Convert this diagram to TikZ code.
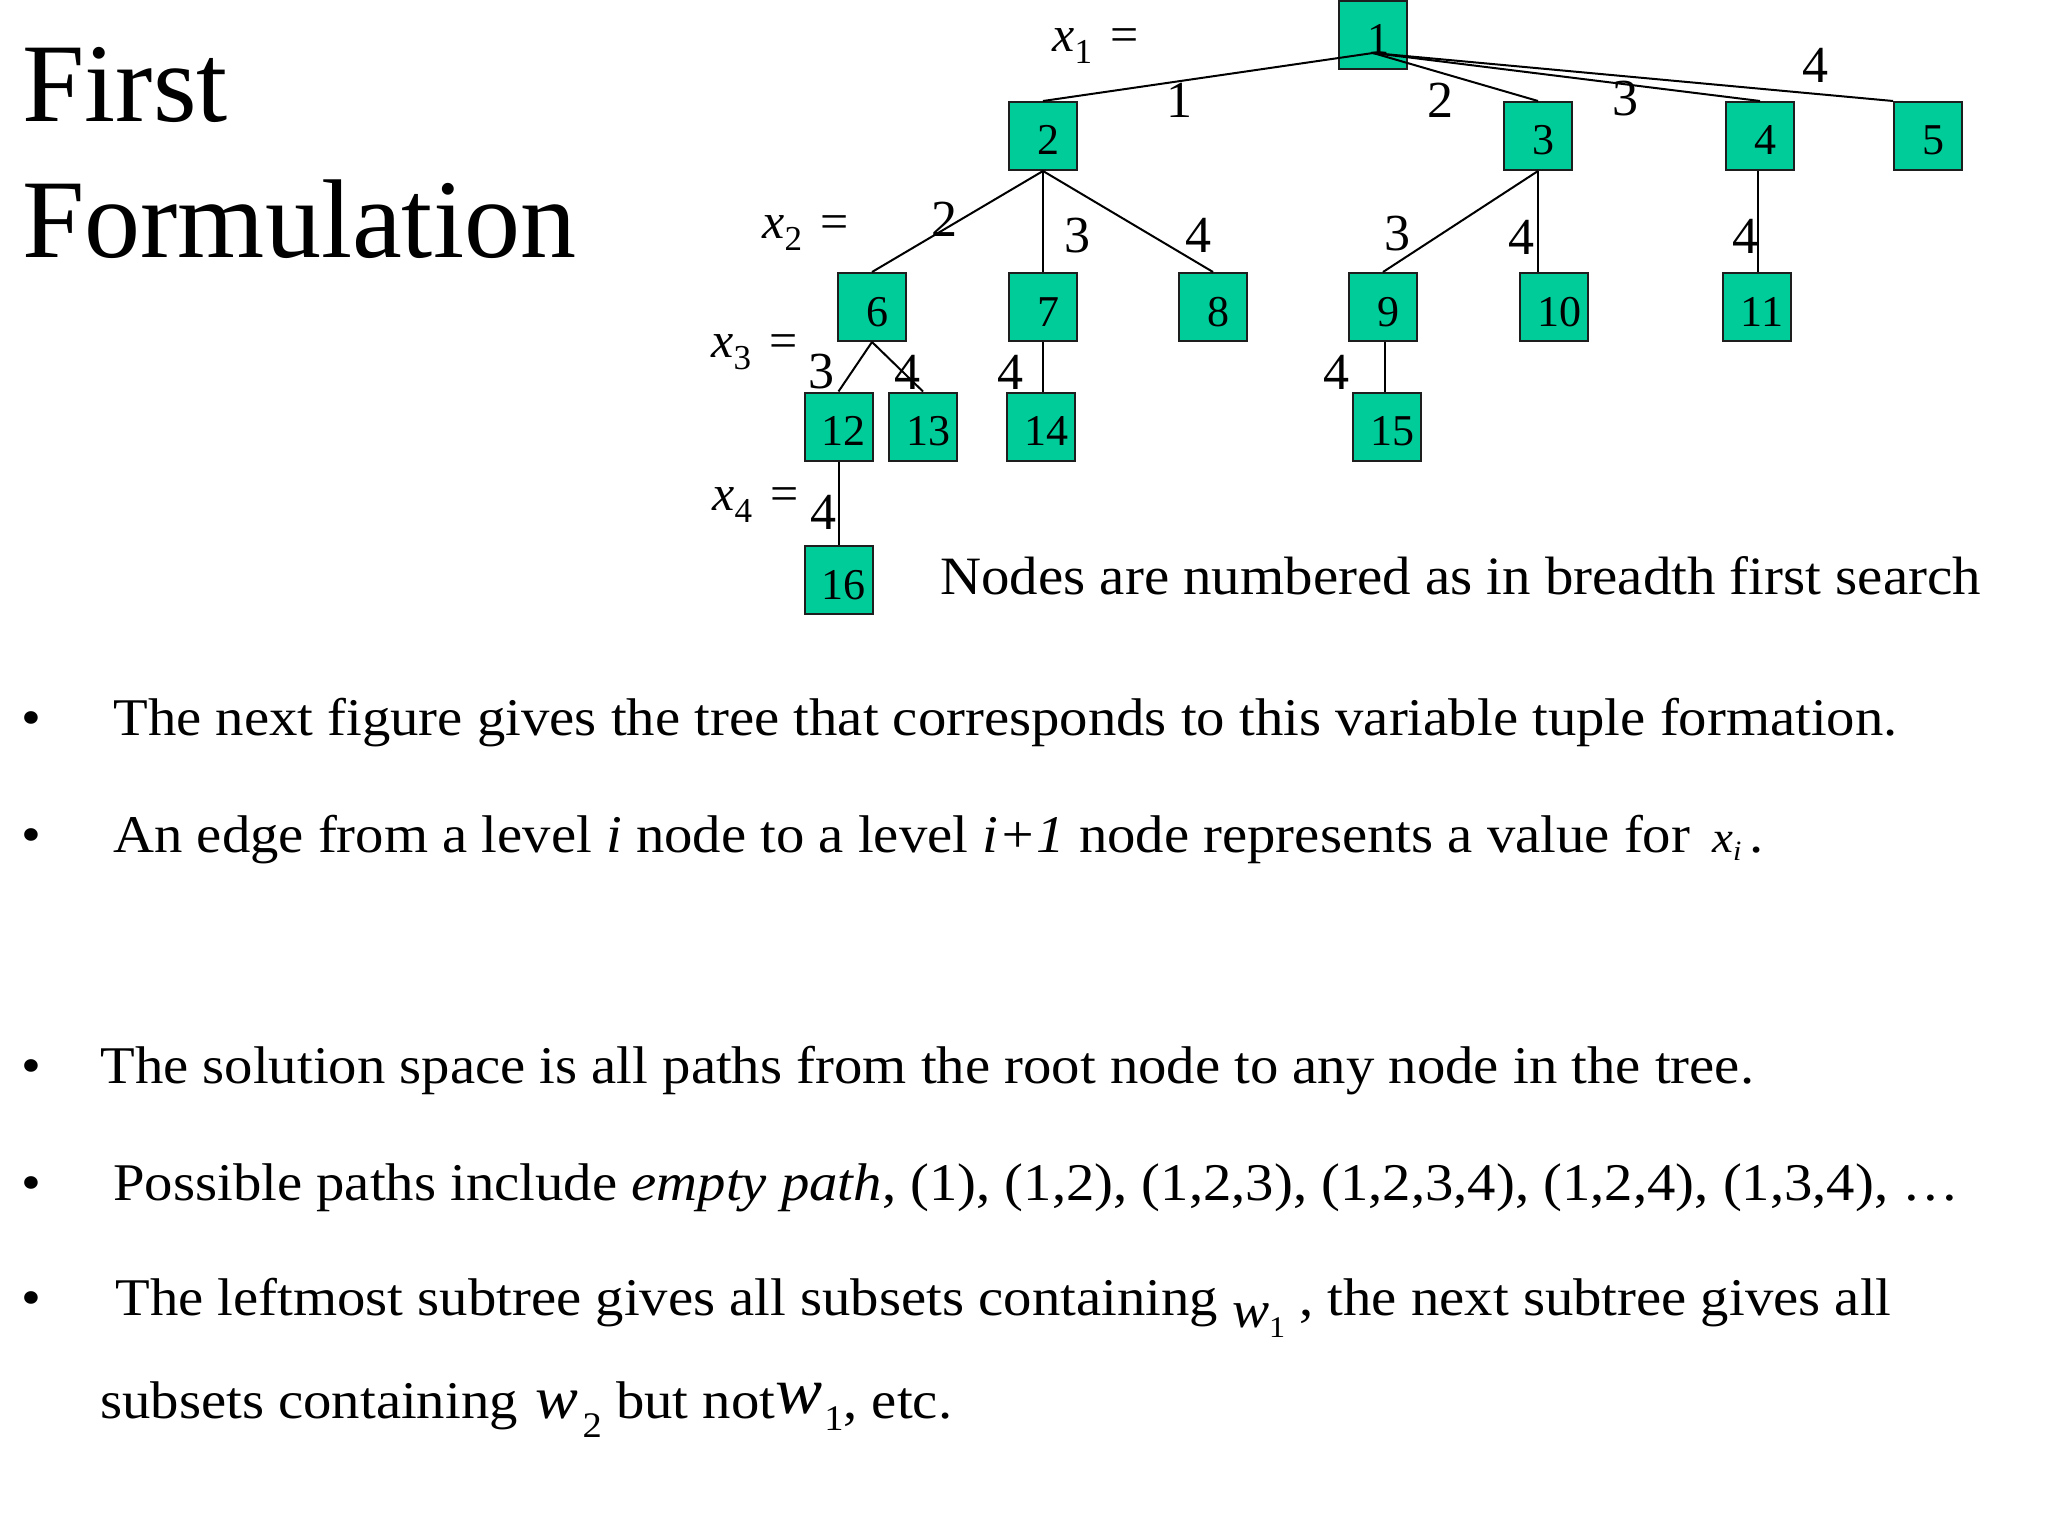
\documentclass[tikz,border=0pt]{standalone}
\usepackage{fontspec}
\setmainfont{Liberation Serif}
\newfontfamily\widefont{Liberation Serif}[FakeStretch=1.07]
\newfontfamily\capfont{Liberation Serif}[FakeStretch=1.053]
\definecolor{boxfill}{RGB}{0,204,153}
\definecolor{boxline}{RGB}{30,30,30}
\newcommand\xvar[1]{\textit{x}\raisebox{-6pt}{\fontsize{17.5}{17.5}\selectfont #1}\hspace{9pt}=}
\newcommand\nd[1]{\hspace*{5pt}#1}
\begin{document}
\begin{tikzpicture}[x=0.5pt,y=-0.5pt,
  tbox/.style={draw=boxline, fill=boxfill, line width=1pt, minimum width=34pt, minimum height=34pt, inner sep=0pt, text height=19pt, text depth=0pt, font=\fontsize{22}{22}\selectfont},
  elab/.style={inner sep=0pt, font=\fontsize{26}{26}\selectfont},
  edge/.style={line width=1pt, draw=black},
  vlab/.style={inner sep=0pt, anchor=base west, font=\fontsize{25}{25}\selectfont},
  body/.style={inner sep=0pt, anchor=base west, font=\widefont\fontsize{26.5}{26.5}\selectfont},
  ttl/.style={inner sep=0pt, anchor=base west, font=\fontsize{56}{56}\selectfont},
  ]
\fill[white] (0,0) rectangle (2048,1536);
\useasboundingbox (0,0) rectangle (2048,1536);

% title
\node[ttl] (t1) at (22,121) {First};
\node[ttl] (t2) at (22,257) {Formulation};

% tree nodes
\node[tbox] (n1) at (1373,35) {\nd{1}};
\node[tbox] (n2) at (1043,136) {\nd{2}};
\node[tbox] (n3) at (1538,136) {\nd{3}};
\node[tbox] (n4) at (1760,136) {\nd{4}};
\node[tbox] (n5) at (1928,136) {\nd{5}};
\node[tbox] (n6) at (872,307) {\nd{6}};
\node[tbox] (n7) at (1043,307) {\nd{7}};
\node[tbox] (n8) at (1213,307) {\nd{8}};
\node[tbox] (n9) at (1383,307) {\nd{9}};
\node[tbox] (n10) at (1554,307) {\nd{10}};
\node[tbox] (n11) at (1757,307) {\nd{11}};
\node[tbox] (n12) at (838.5,426.5) {\nd{12}};
\node[tbox] (n13) at (923,426.5) {\nd{13}};
\node[tbox] (n14) at (1041,426.5) {\nd{14}};
\node[tbox] (n15) at (1387,426.5) {\nd{15}};
\node[tbox] (n16) at (838.5,580) {\nd{16}};

% edges
\coordinate (r) at ([yshift=-9pt]n1.center);
\draw[edge] (r) -- (n2.north);
\draw[edge] (r) -- (n3.north);
\draw[edge] (r) -- (n4.north);
\draw[edge] (r) -- (n5.north west);
\draw[edge] (n2.south) -- (n6.north);
\draw[edge] (n2.south) -- (n7.north);
\draw[edge] (n2.south) -- (n8.north);
\draw[edge] (n3.south) -- (n9.north);
\draw[edge] (n3.south) -- (n3.south |- n10.north);
\draw[edge] ([xshift=-1pt]n4.south) -- ([xshift=-1pt]n4.south |- n11.north);
\draw[edge] (n6.south) -- (n12.north);
\draw[edge] (n6.south) -- (n13.north);
\draw[edge] (n7.south) -- (n7.south |- n14.north);
\draw[edge] ([xshift=1pt]n9.south) -- ([xshift=1pt]n9.south |- n15.north);
\draw[edge] (n12.south) -- (n16.north);

% edge labels
\node[elab] (e12) at (1179,100) {1};
\node[elab] (e13) at (1440,100) {2};
\node[elab] (e14) at (1625,99) {3};
\node[elab] (e15) at (1815,65) {4};
\node[elab] (e26) at (944,219) {2};
\node[elab] (e27) at (1077,236) {3};
\node[elab] (e28) at (1198,235) {4};
\node[elab] (e39) at (1397,234) {3};
\node[elab] (e310) at (1521,237) {4};
\node[elab] (e411) at (1745,236) {4};
\node[elab] (e612) at (821,372) {3};
\node[elab] (e613) at (907,372) {4};
\node[elab] (e714) at (1010,372) {4};
\node[elab] (e915) at (1336,372) {4};
\node[elab] (e1216) at (823,512) {4};

% level labels
\node[vlab] (x1) at (1052,52) {\xvar{1}};
\node[vlab] (x2) at (762,238) {\xvar{2}};
\node[vlab] (x3) at (711,357) {\xvar{3}};
\node[vlab] (x4) at (712,510) {\xvar{4}};

\node[body, font=\capfont\fontsize{27}{27}\selectfont] (cap) at (940,594) {Nodes are numbered as in breadth first search};

% bullets
\node[body] (b1) at (21,735) {•};
\node[body] (b2) at (21,852) {•};
\node[body] (b3) at (21,1083) {•};
\node[body] (b4) at (21,1200) {•};
\node[body] (b5) at (21,1315) {•};

\node[body] (l1) at (113,735) {The next figure gives the tree that corresponds to this variable tuple formation.};
\node[body] (l2) at (113,852) {An edge from a level \textit{i} node to a level \textit{i+1} node represents a value for\hspace{11pt}{\fontsize{22}{22}\selectfont\itshape x}\raisebox{-4pt}{\fontsize{14}{14}\selectfont\itshape i}\hspace{4pt}.};
\node[body] (l3) at (100,1083) {The solution space is all paths from the root node to any node in the tree.};
\node[body] (l4) at (113,1200) {Possible paths include \textit{empty path}, (1), (1,2), (1,2,3), (1,2,3,4), (1,2,4), (1,3,4), …};
\node[body] (l5) at (115,1315) {The leftmost subtree gives all subsets containing \raisebox{-6pt}{\fontsize{26}{26}\selectfont\itshape w}\raisebox{-11pt}{\fontsize{15}{15}\selectfont 1} , the next subtree gives all};
\node[body] (l6) at (100,1418) {subsets containing\hspace{9pt}{\fontsize{30}{30}\selectfont\itshape w}\hspace{2pt}\raisebox{-9.5pt}{\fontsize{18}{18}\selectfont 2} but not\raisebox{2.5pt}{\fontsize{33}{33}\selectfont\itshape w}\hspace{1pt}\raisebox{-6pt}{\fontsize{18}{18}\selectfont 1}, etc.};
\end{tikzpicture}
\end{document}
